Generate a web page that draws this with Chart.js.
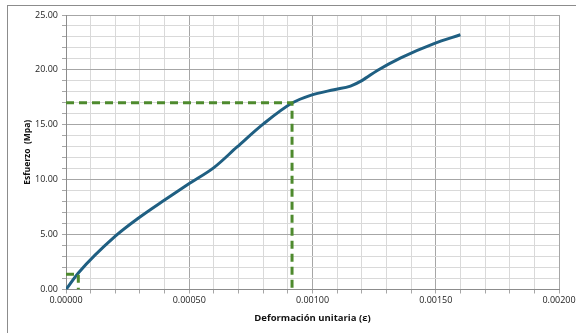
<!DOCTYPE html>
<html>
<head>
<meta charset="utf-8">
<script src="https://cdn.jsdelivr.net/npm/chart.js@4.4.0/dist/chart.umd.min.js"></script>
<style>
  html, body { margin: 0; padding: 0; background: #fff; }
  #wrap { position: relative; width: 576px; height: 333px; overflow: hidden; }
  #frame { position: absolute; left: 7px; top: 5px; width: 600px; height: 400px;
           border-left: 1px solid #8c8c8c; border-top: 1px solid #8c8c8c; }
  canvas { position: absolute; left: 0; top: 0; }
</style>
</head>
<body>
<div id="wrap">
  <div id="frame"></div>
  <canvas id="stressChart" width="576" height="333"></canvas>
</div>
<script>
// curve: strain (x) vs stress in MPa (y)
const strain = [0, 0.00005, 0.0002, 0.0003, 0.0004, 0.0005, 0.0006, 0.000694,
                0.000802, 0.000917, 0.000992, 0.001087, 0.001154, 0.001202, 0.001263,
                0.001358, 0.001493, 0.0016];
const stress = [0, 1.5, 4.85, 6.6, 8.15, 9.65, 11.1, 12.98,
                15.1, 16.98, 17.68, 18.2, 18.53, 19.05, 19.95,
                21.1, 22.4, 23.2];

// dashed guide lines (small marker near origin and the one at ~17 MPa)
const guideLow = { x: 0.00005, y: 1.4 };
const guideHigh = { x: 0.000917, y: 17.0 };

const xMax = 0.002, xStep = 0.0001;
const yMax = 25, yStep = 1;

const blue = '#1f5f82';
const green = '#4e8a2e';

function isMajorX(v) { return Math.round(v / xStep) % 5 === 0; }
function isMajorY(v) { return Math.round(v) % 5 === 0; }

const curve = strain.map((x, i) => ({ x: x, y: stress[i] }));

function guide(p) {
    return [
        { x: 0, y: p.y }, { x: p.x, y: p.y }, { x: p.x, y: 0 }
    ];
}

const ctx = document.getElementById('stressChart').getContext('2d');
new Chart(ctx, {
    type: 'scatter',
    data: {
        datasets: [
            {
                data: guide(guideHigh),
                showLine: true,
                borderColor: green,
                borderWidth: 3,
                borderDash: [8, 5],
                pointRadius: 0,
                tension: 0
            },
            {
                data: guide(guideLow),
                showLine: true,
                borderColor: green,
                borderWidth: 3,
                borderDash: [8, 5],
                pointRadius: 0,
                tension: 0
            },
            {
                data: curve,
                showLine: true,
                borderColor: blue,
                borderWidth: 3,
                pointRadius: 0,
                cubicInterpolationMode: 'monotone'
            }
        ]
    },
    options: {
        responsive: false,
        animation: false,
        layout: { padding: { top: 15, right: 17, left: 18, bottom: 5 } },
        plugins: { legend: { display: false }, tooltip: { enabled: false } },
        scales: {
            x: {
                type: 'linear',
                min: 0,
                max: xMax,
                afterBuildTicks: function (scale) {
                    const t = [];
                    for (let i = 0; i <= Math.round(xMax / xStep); i++) t.push({ value: i * xStep });
                    scale.ticks = t;
                },
                afterFit: function (scale) {
                    scale.height = 38.5;
                    scale.paddingRight = 0;
                },
                ticks: {
                    autoSkip: false,
                    maxRotation: 0,
                    padding: 2,
                    color: '#222',
                    font: { family: 'Open Sans', size: 9 },
                    callback: function (v) { return isMajorX(v) ? v.toFixed(5) : ''; }
                },
                grid: {
                    color: function (c) { return isMajorX(c.tick.value) ? '#a6a6a6' : '#d9d9d9'; },
                    tickColor: '#a6a6a6',
                    tickLength: 4
                },
                border: { color: '#8c8c8c' },
                title: {
                    display: true,
                    text: 'Deformación unitaria (ε)',
                    color: '#111',
                    font: { family: 'Open Sans', size: 9.5, weight: 'bold' },
                    padding: { top: 4 }
                }
            },
            y: {
                min: 0,
                max: yMax,
                afterBuildTicks: function (scale) {
                    const t = [];
                    for (let i = 0; i <= yMax; i += yStep) t.push({ value: i });
                    scale.ticks = t;
                },
                afterFit: function (scale) { scale.width = 48; },
                ticks: {
                    autoSkip: false,
                    padding: 4,
                    color: '#222',
                    font: { family: 'Open Sans', size: 9 },
                    callback: function (v) { return isMajorY(v) ? v.toFixed(2) : ''; }
                },
                grid: {
                    color: function (c) { return isMajorY(c.tick.value) ? '#a6a6a6' : '#d9d9d9'; },
                    tickColor: '#a6a6a6',
                    tickLength: 4
                },
                border: { color: '#8c8c8c' },
                title: {
                    display: true,
                    text: 'Esfuerzo  (Mpa)',
                    color: '#111',
                    font: { family: 'Open Sans', size: 8.5, weight: 'bold' },
                    padding: { bottom: 6 }
                }
            }
        }
    }
});
</script>
</body>
</html>
